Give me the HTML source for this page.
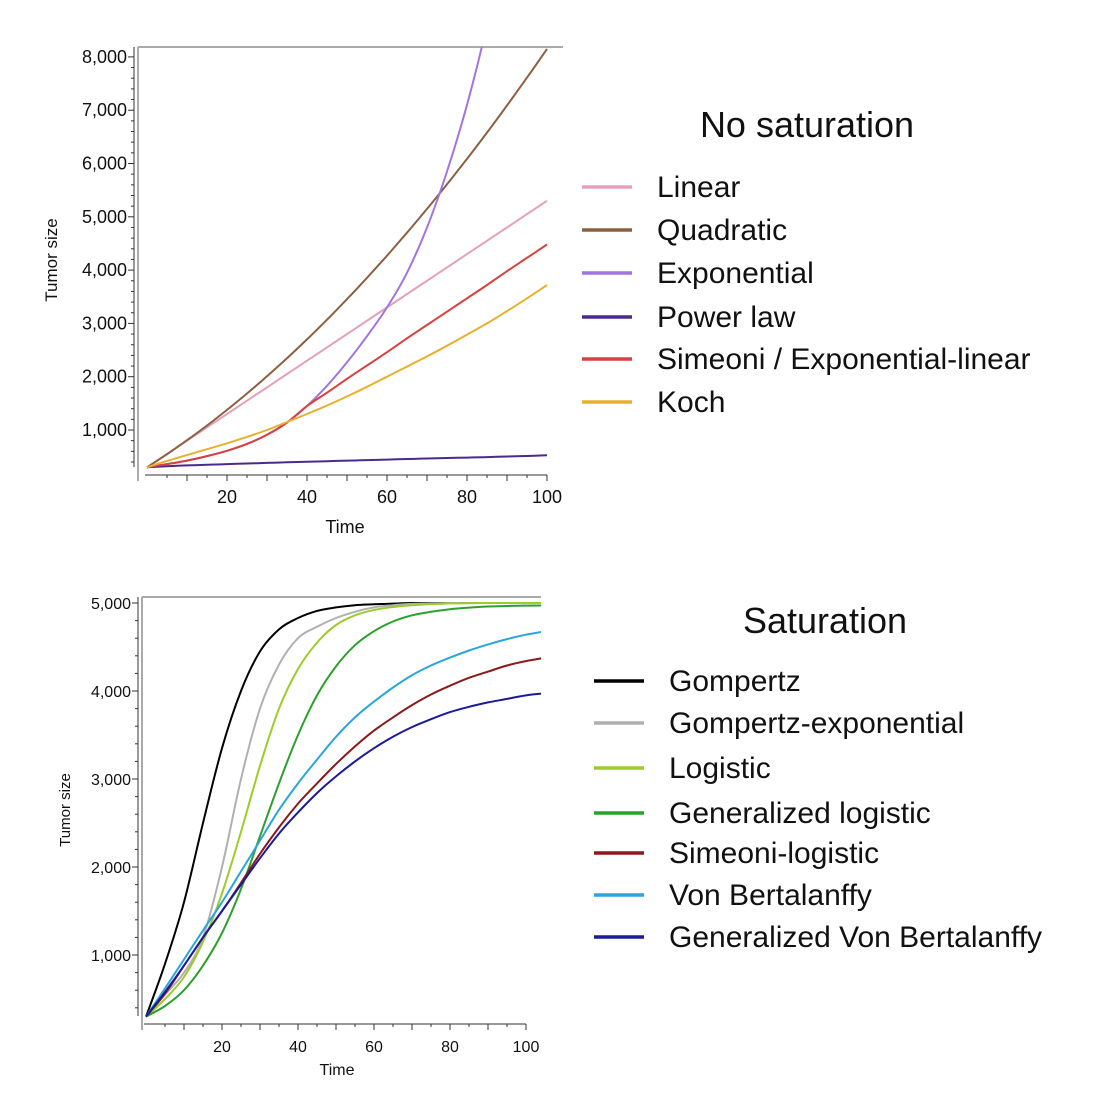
<!DOCTYPE html>
<html><head><meta charset="utf-8"><style>
body{margin:0;background:#fff;}
svg{display:block;font-family:"Liberation Sans",sans-serif;}
</style></head><body>
<svg id="s" width="1107" height="1100" xmlns="http://www.w3.org/2000/svg">
<g id="top"></g>
<g id="bot"></g>
<g id="leg"></g>
</svg>
<script>
const NS="http://www.w3.org/2000/svg";
// ---------- data: top chart ----------
const topTimes=[0,5,10,15,20,25,30,35,40,45,50,55,60,65,70,75,80,85,90,95,100];
const topNames=["Linear","Quadratic","Exponential","Power law","Simeoni / Exponential-linear","Koch"];
const topColors=["#e3a0b8","#8b6142","#a274e0","#4b2a8f","#d8413f","#e9b030"];
const linearVals=[300,550,800,1050,1300,1550,1800,2050,2300,2550,2800,3050,3300,3550,3800,4050,4300,4550,4800,5050,5300];
const quadVals=[300,546,808,1084,1377,1685,2008,2346,2700,3070,3455,3855,4271,4701,5148,5610,6087,6579,7088,7611,8150];
const expVals=[300,360,425,510,610,740,910,1140,1450,1830,2270,2760,3300,3950,4800,5850,7100,8600,10400,12500,15000];
const powerVals=[300,320,335,348,360,372,383,394,405,415,425,435,445,455,465,474,483,492,502,512,525];
const simeoniVals=[300,360,425,510,610,740,910,1140,1450,1700,1960,2210,2460,2720,2970,3220,3470,3720,3980,4230,4480];
const kochVals=[300,420,530,640,750,870,1000,1150,1300,1460,1630,1810,2000,2190,2380,2580,2790,3000,3230,3470,3720];
const topSeries=[linearVals,quadVals,expVals,powerVals,simeoniVals,kochVals];
const topYTicks=[1000,2000,3000,4000,5000,6000,7000,8000];
const topXTicks=[20,40,60,80,100];
// ---------- data: bottom chart ----------
const botTimes=[0,5,10,15,20,25,30,35,40,45,50,55,60,65,70,75,80,85,90,95,100,104];
const botNames=["Gompertz","Gompertz-exponential","Logistic","Generalized logistic","Simeoni-logistic","Von Bertalanffy","Generalized Von Bertalanffy"];
const botColors=["#000000","#b0b0b0","#9ccc2c","#2ca02c","#8b1a1a","#2aa6dc","#1a1a9c"];
const gompVals=[300,900,1600,2500,3350,4000,4450,4700,4830,4910,4950,4975,4985,4993,5000,5000,5000,5000,5000,5000,5000,5000];
const gompExpVals=[300,550,800,1200,2000,3000,3800,4300,4600,4730,4830,4900,4950,4975,4990,4996,5000,5000,5000,5000,5000,5000];
const logisticVals=[300,500,750,1150,1700,2400,3150,3800,4250,4550,4750,4860,4920,4955,4975,4987,4995,4998,5000,5000,5000,5000];
const genLogVals=[300,420,600,880,1250,1750,2350,2950,3500,3950,4280,4520,4680,4790,4860,4900,4930,4948,4960,4966,4970,4972];
const simLogVals=[300,560,880,1200,1500,1820,2150,2450,2720,2950,3170,3370,3550,3700,3840,3960,4060,4150,4220,4290,4340,4370];
const vbVals=[300,620,950,1280,1600,1950,2300,2650,2950,3220,3480,3700,3880,4040,4180,4290,4380,4460,4530,4590,4640,4670];
const genVbVals=[300,580,880,1200,1500,1800,2100,2380,2620,2840,3030,3200,3350,3480,3590,3680,3760,3820,3870,3910,3950,3970];
const botSeries=[gompVals,gompExpVals,logisticVals,genLogVals,simLogVals,vbVals,genVbVals];
const botYTicks=[1000,2000,3000,4000,5000];
const botXTicks=[20,40,60,80,100];

function mk(parent,tag,attrs,text){const e=document.createElementNS(NS,tag);for(const k in attrs)e.setAttribute(k,attrs[k]);if(text!==undefined)e.textContent=text;parent.appendChild(e);return e;}
const fmt=v=>v.toLocaleString('en-US');

function smoothPath(pts){
  let d="M"+pts[0][0].toFixed(1)+","+pts[0][1].toFixed(1);
  for(let i=0;i<pts.length-1;i++){
    const p0=pts[i-1]||pts[i],p1=pts[i],p2=pts[i+1],p3=pts[i+2]||p2;
    const c1x=p1[0]+(p2[0]-p0[0])/6,c1y=p1[1]+(p2[1]-p0[1])/6;
    const c2x=p2[0]-(p3[0]-p1[0])/6,c2y=p2[1]-(p3[1]-p1[1])/6;
    d+="C"+c1x.toFixed(1)+","+c1y.toFixed(1)+" "+c2x.toFixed(1)+","+c2y.toFixed(1)+" "+p2[0].toFixed(1)+","+p2[1].toFixed(1);
  }
  return d;
}

function drawChart(g,cfg,times,series,colors,names,yTicks,xTicks){
  const X=t=>cfg.x0+t*cfg.xs;
  const Y=v=>cfg.y1000-(v-1000)*cfg.ys;
  const clipId=cfg.id+"clip";
  const cp=mk(g,"clipPath",{id:clipId});mk(cp,"rect",{x:cfg.axX,y:cfg.topY,width:cfg.right-cfg.axX,height:cfg.axY-cfg.topY});
  let e=mk(g,"line",{x1:cfg.axX,y1:cfg.topY,x2:cfg.right,y2:cfg.topY,stroke:"#aaa","stroke-width":2});
  
  e=mk(g,"line",{x1:cfg.axX,y1:cfg.topY,x2:cfg.axX,y2:cfg.axY+6,stroke:"#aaa","stroke-width":2});
  
  e=mk(g,"line",{x1:cfg.axX-4,y1:cfg.topY,x2:cfg.axX-4,y2:cfg.axY-8,stroke:"#333","stroke-width":1});
  
  e=mk(g,"line",{x1:X(0)-2,y1:cfg.axY,x2:X(100),y2:cfg.axY,stroke:"#333","stroke-width":1});
  
  for(let t=5;t<=100;t+=5){const maj=t%10===0;mk(g,"line",{x1:X(t),y1:cfg.axY,x2:X(t),y2:cfg.axY+(maj?6:3),stroke:"#333"});}
  for(let v=cfg.minorStart;v<=yTicks[yTicks.length-1];v+=200){const maj=v%1000===0;mk(g,"line",{x1:cfg.axX-4,y1:Y(v),x2:cfg.axX-4-(maj?6:3),y2:Y(v),stroke:"#333"});}
  yTicks.forEach(v=>{const t=mk(g,"text",{x:cfg.axX-11,y:Y(v)+6,"text-anchor":"end","font-size":cfg.fs,fill:"#111"},fmt(v));
    });
  xTicks.forEach(v=>{const t=mk(g,"text",{x:X(v),y:cfg.axY+28,"text-anchor":"middle","font-size":cfg.fs,fill:"#111"},String(v));
    });
  e=mk(g,"text",{x:cfg.xtX,y:cfg.xtY,"text-anchor":"middle","font-size":cfg.fs,fill:"#111"},"Time");
  
  e=mk(g,"text",{x:0,y:0,transform:`translate(${cfg.ytX},${cfg.ytY}) rotate(-90)`,"text-anchor":"middle","font-size":cfg.fs-1,fill:"#111"},"Tumor size");
  
  series.forEach((vals,i)=>{
    const pts=vals.map((v,j)=>[X(times[j]),Y(v)]);
    const p=mk(g,"path",{d:smoothPath(pts),fill:"none",stroke:colors[i],"stroke-width":2,"clip-path":`url(#${clipId})`,"stroke-linejoin":"round"});
    
    
  });
}
drawChart(document.getElementById('top'),{id:"t",x0:147,xs:4.0,y1000:430,ys:0.0533,axX:138,axY:475,topY:47,right:563,minorStart:400,fs:18,xtX:345,xtY:533,ytX:57,ytY:260},
  topTimes,topSeries,topColors,topNames,topYTicks,topXTicks);
drawChart(document.getElementById('bot'),{id:"b",x0:146,xs:3.8,y1000:955,ys:0.088,axX:142,axY:1024,topY:597,right:541,minorStart:400,fs:16,xtX:337,xtY:1075,ytX:70,ytY:810},
  botTimes,botSeries,botColors,botNames,botYTicks,botXTicks);

function legend(title,tx,ty,names,colors,lx,textX,rows,fs,tfs){
  const L=document.getElementById('leg');
  const g=mk(L,"g",{});
  
  const t=mk(g,"text",{x:tx,y:ty,"text-anchor":"middle","font-size":tfs,fill:"#111"},title);
  
  names.forEach((n,i)=>{
    const r=mk(g,"g",{});
    
    mk(r,"line",{x1:lx,y1:rows[i],x2:lx+50,y2:rows[i],stroke:colors[i],"stroke-width":3.5});
    mk(r,"text",{x:textX,y:rows[i]+10,"font-size":fs,fill:"#111"},n);
  });
}
legend("No saturation",807,137,topNames,topColors,582,657,[187,230,273,317,359,402],30,36);
legend("Saturation",825,633,botNames,botColors,594,669,[681,723,768,813,853,895,937],30,36);
</script>
</body></html>
